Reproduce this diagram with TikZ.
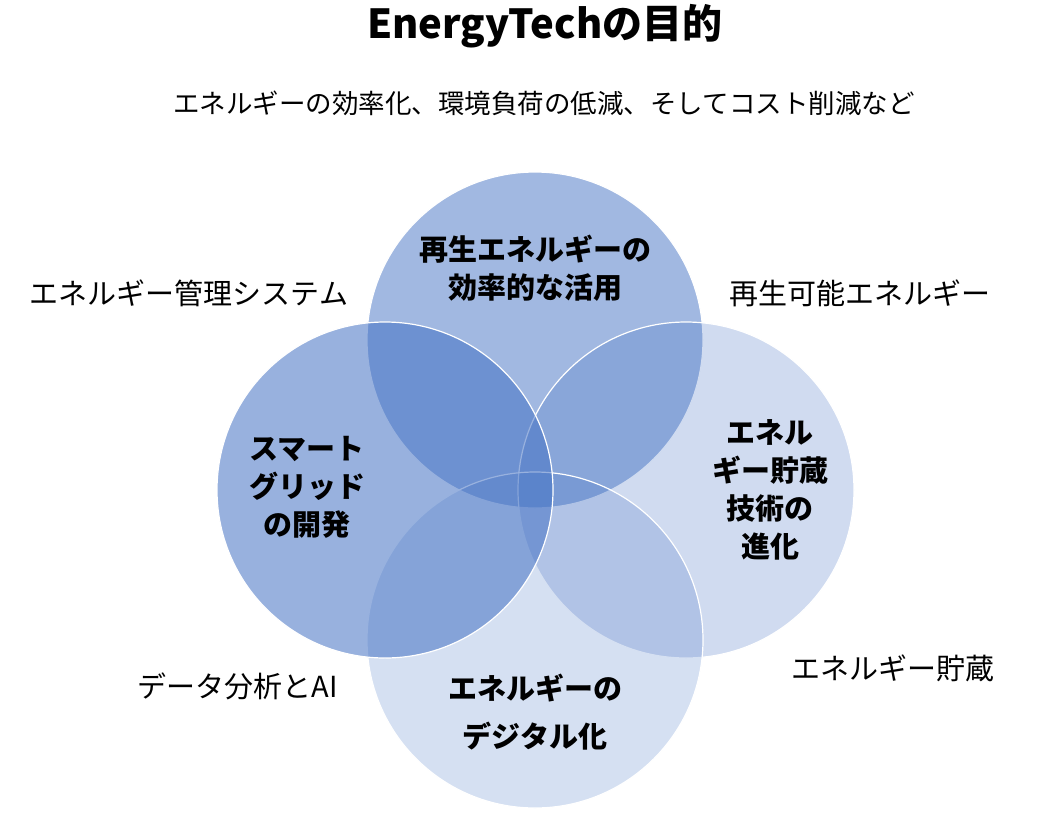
\documentclass[tikz,border=0pt]{standalone}
\usepackage{fontspec}
\setmainfont{Noto Sans CJK JP}
\begin{document}
\begin{tikzpicture}[x=1pt,y=-1pt,
 circ/.style={draw=white,line width=1.2pt,fill=blue1},
 lab/.style={font=\fontsize{29}{38}\selectfont,align=center,text=black},
 blab/.style={lab,font=\bfseries\fontsize{29}{38}\selectfont}]
\definecolor{blue1}{HTML}{4472C4}
\useasboundingbox (0,0) rectangle (1047,831);
\fill[white] (0,0) rectangle (1047,831);
\node[font=\bfseries\fontsize{40}{46}\selectfont] (title) at (545,26) {EnergyTechの目的};
\node[font=\fontsize{26.5}{30}\selectfont] (sub) at (544,103) {エネルギーの効率化、環境負荷の低減、そしてコスト削減など};
\draw[circ,fill opacity=0.5] (535,340) circle (168);
\draw[circ,fill opacity=0.25] (686,490) circle (168);
\draw[circ,fill opacity=0.22] (535,640) circle (168);
\draw[circ,fill opacity=0.55] (385,490) circle (168);
\node[blab] (ct) at (535,268) {再生エネルギーの\\効率的な活用};
\node[blab] (cr) at (770,490) {エネル\\ギー貯蔵\\技術の\\進化};
\node[blab] (cb) at (535,712) {エネルギーの\\[10pt]デジタル化};
\node[blab] (cl) at (307,487) {スマート\\グリッド\\の開発};
\node[lab] (o1) at (189,293) {エネルギー管理システム};
\node[lab] (o2) at (860,293) {再生可能エネルギー};
\node[lab] (o3) at (238,686) {データ分析とAI};
\node[lab] (o4) at (893,668) {エネルギー貯蔵};
\end{tikzpicture}
\end{document}
